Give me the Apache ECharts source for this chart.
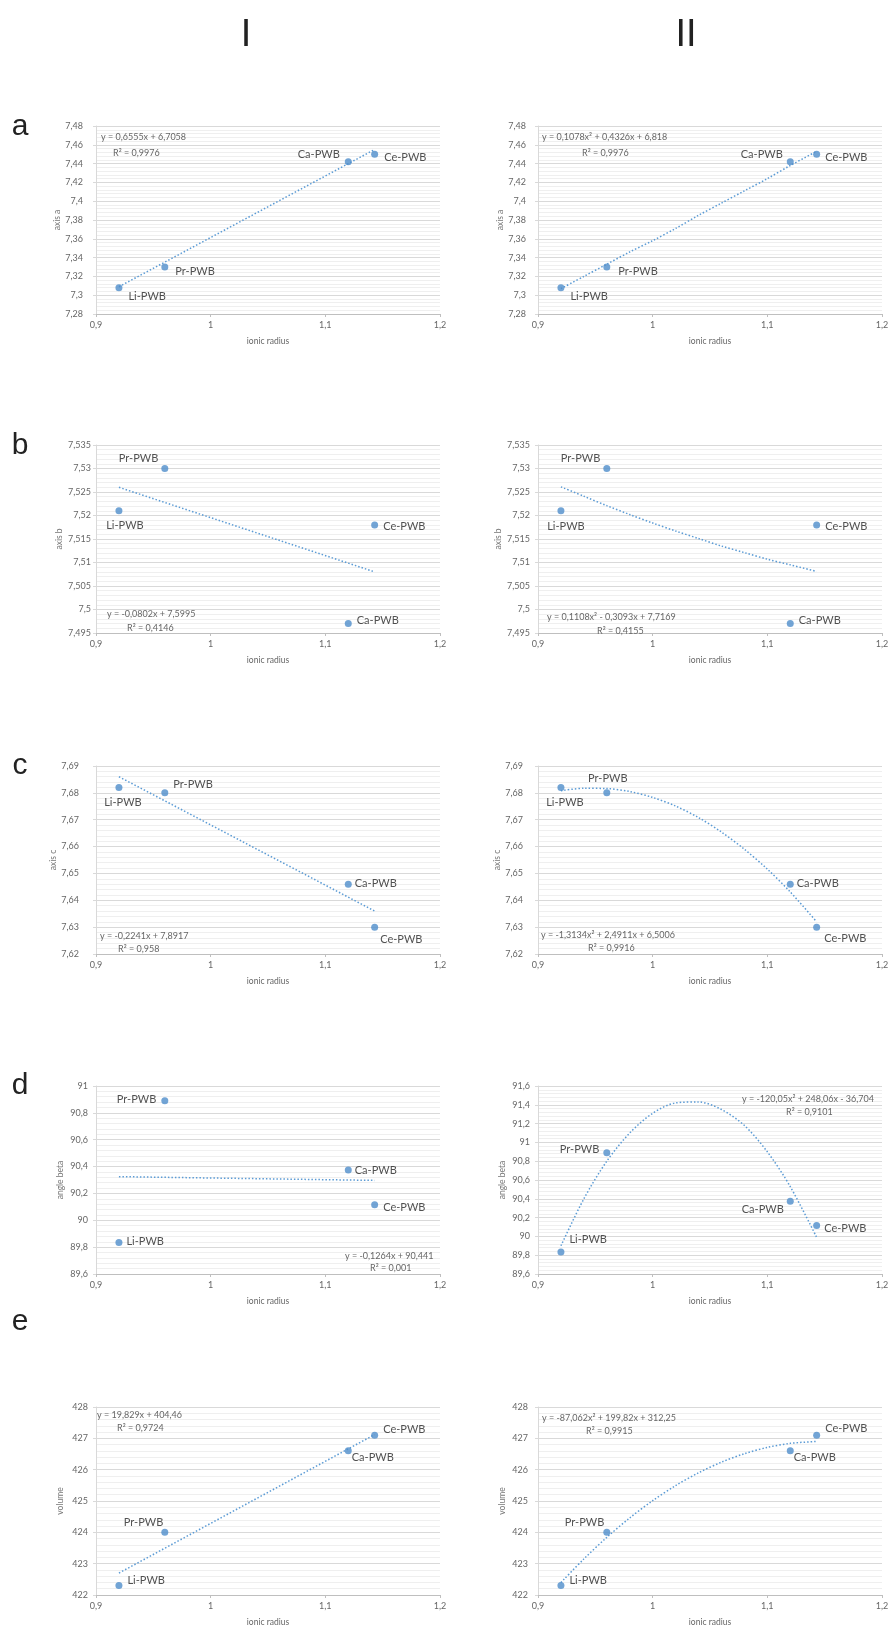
<!DOCTYPE html>
<html><head><meta charset="utf-8">
<style>html,body{margin:0;padding:0;background:#fff}#c{width:892px;height:1634px}</style>
<script src="https://cdn.jsdelivr.net/npm/echarts/dist/echarts.min.js"></script>
</head><body><div id="c"></div>
<script>
// ---------- data ----------
const pointNames = ['Li-PWB', 'Pr-PWB', 'Ca-PWB', 'Ce-PWB'];
const ionicRadius = [0.92, 0.96, 1.12, 1.143];
const axisA = [7.308, 7.330, 7.442, 7.450];
const axisB = [7.521, 7.530, 7.497, 7.518];
const axisC = [7.682, 7.680, 7.646, 7.630];
const angleBeta = [89.835, 90.89, 90.375, 90.115];
const volume = [422.3, 424.0, 426.6, 427.1];

// trendlines, column I (linear) : end points
const trendLinearX = [0.92, 1.143];
const trendA1 = [7.309, 7.455];
const trendB1 = [7.526, 7.508];
const trendC1 = [7.686, 7.636];
const trendD1 = [90.325, 90.297];
const trendE1 = [422.70, 427.12];
// trendlines, column II (polynomial) : points along the curve
const trendCurveX = [0.92, 0.94, 0.96, 0.98, 1.00, 1.02, 1.04, 1.06, 1.08, 1.10, 1.12, 1.143];
const trendA2 = [7.307, 7.320, 7.333, 7.346, 7.358, 7.371, 7.385, 7.398, 7.411, 7.424, 7.438, 7.453];
const trendB2 = [7.5261, 7.5241, 7.5221, 7.5202, 7.5184, 7.5167, 7.5151, 7.5135, 7.5121, 7.5107, 7.5095, 7.5081];
const trendC2 = [7.6808, 7.6817, 7.6816, 7.6805, 7.6783, 7.6751, 7.6708, 7.6654, 7.6590, 7.6516, 7.6431, 7.6320];
const trendD2 = [89.90, 90.40, 90.80, 91.10, 91.31, 91.42, 91.43, 91.35, 91.18, 90.90, 90.53, 89.99];
const trendE2 = [422.40, 423.15, 423.84, 424.46, 425.01, 425.49, 425.90, 426.24, 426.51, 426.71, 426.84, 426.90];

// axes
const yAxisNames = ['axis a', 'axis b', 'axis c', 'angle beta', 'volume'];
const yMinI = [7.28, 7.495, 7.62, 89.6, 422];
const yMaxI = [7.48, 7.535, 7.69, 91, 428];
const yMinII = [7.28, 7.495, 7.62, 89.6, 422];
const yMaxII = [7.48, 7.535, 7.69, 91.6, 428];
const yStep = [0.02, 0.005, 0.01, 0.2, 1];
const xMin = 0.9, xMax = 1.2, xStep = 0.1;
const xAxisName = 'ionic radius';

// texts
const panelLetters = ['a', 'b', 'c', 'd', 'e'];
const columnTitles = ['I', 'II'];
const equationsI = [
  ['y = 0,6555x + 6,7058', 'R² = 0,9976'],
  ['y = -0,0802x + 7,5995', 'R² = 0,4146'],
  ['y = -0,2241x + 7,8917', 'R² = 0,958'],
  ['y = -0,1264x + 90,441', 'R² = 0,001'],
  ['y = 19,829x + 404,46', 'R² = 0,9724']
];
const equationsII = [
  ['y = 0,1078x² + 0,4326x + 6,818', 'R² = 0,9976'],
  ['y = 0,1108x² - 0,3093x + 7,7169', 'R² = 0,4155'],
  ['y = -1,3134x² + 2,4911x + 6,5006', 'R² = 0,9916'],
  ['y = -120,05x² + 248,06x - 36,704', 'R² = 0,9101'],
  ['y = -87,062x² + 199,82x + 312,25', 'R² = 0,9915']
];

// ---------- layout / style ----------
const G_LEFT = [96, 538];
const G_WIDTH = 344;
const G_TOP = [126, 445, 766, 1086, 1407];
const G_HEIGHT = 188;
const LETTER_BASE = [142, 461, 781, 1101, 1337];
const labelMarginI = [13, 5, 17, 8, 8];
const labelMarginII = [12, 8, 15, 8, 10];

const labelPlaceI = [
  [['right', [1, 9]], ['right', [2, 4]], ['left', [0, -7]], ['right', [1, 3]]],
  [['bottom', [6, 1]], ['left', [2, -10]], ['right', [0, -3]], ['right', [0, 2]]],
  [['bottom', [4, 1]], ['right', [0, -8]], ['right', [-2, -1]], ['right', [-3, 12]]],
  [['right', [-1, -1]], ['left', [0, -1]], ['right', [-2, 1]], ['right', [0, 3]]],
  [['right', [0, -5]], ['left', [7, -10]], ['right', [-5, 7]], ['right', [0, -6]]]
];
const labelPlaceII = [
  [['right', [1, 9]], ['right', [3, 4]], ['left', [1, -7]], ['right', [0, 3]]],
  [['bottom', [5, 2]], ['left', [2, -10]], ['right', [0, -3]], ['right', [0, 2]]],
  [['bottom', [4, 1]], ['top', [1, 0]], ['right', [-2, -1]], ['right', [-1, 11]]],
  [['right', [0, -12]], ['left', [1, -3]], ['left', [2, 8]], ['right', [-1, 3]]],
  [['right', [0, -5]], ['left', [6, -10]], ['right', [-5, 7]], ['right', [0, -7]]]
];
// equation text offsets relative to grid top-left: [line1 [dx,dy], line2 [dx,dy]]
const eqPosI = [
  [[5, 11], [17, 27]], [[11, 169], [31, 183]], [[4, 170], [22, 183]],
  [[249, 170], [274, 182]], [[1, 8], [21, 21]]
];
const eqPosII = [
  [[4, 11], [44, 27]], [[9, 172], [59, 186]], [[3, 169], [50, 182]],
  [[204, 13], [248, 26]], [[4, 11], [48, 24]]
];

const BLUE = '#4f8dca';
const TREND = '#5b9bd5';
const FONT = 'Lato, "Open Sans", sans-serif';
const fmt = v => String(+(+v).toFixed(4)).replace('.', ',');

const yValues = [axisA, axisB, axisC, angleBeta, volume];
const trendI = [trendA1, trendB1, trendC1, trendD1, trendE1];
const trendII = [trendA2, trendB2, trendC2, trendD2, trendE2];

const grids = [], xAxes = [], yAxes = [], series = [], graphics = [];

for (let col = 0; col < 2; col++) {
  for (let r = 0; r < 5; r++) {
    const gi = grids.length;
    grids.push({ left: G_LEFT[col], top: G_TOP[r], width: G_WIDTH, height: G_HEIGHT,
      containLabel: false, outerBoundsMode: 'none' });
    xAxes.push({
      gridIndex: gi, type: 'value', min: xMin, max: xMax, interval: xStep,
      name: xAxisName, nameLocation: 'middle', nameGap: 23,
      nameTextStyle: { fontFamily: FONT, fontSize: 8.5, color: '#666' },
      axisLine: { show: true, lineStyle: { color: '#bfbfbf', width: 1 } },
      axisTick: { show: true, length: 3, lineStyle: { color: '#bfbfbf' } },
      axisLabel: { formatter: fmt, fontFamily: FONT, fontSize: 9, color: '#666', margin: 7 },
      splitLine: { show: false }
    });
    yAxes.push({
      gridIndex: gi, type: 'value',
      min: col ? yMinII[r] : yMinI[r], max: col ? yMaxII[r] : yMaxI[r], interval: yStep[r],
      name: yAxisNames[r], nameLocation: 'middle', nameGap: 31,
      nameTextStyle: { fontFamily: FONT, fontSize: 8.5, color: '#777' },
      axisLine: { show: true, lineStyle: { color: '#d9d9d9', width: 1 } },
      axisTick: { show: true, length: 3, lineStyle: { color: '#d9d9d9' } },
      axisLabel: { formatter: fmt, fontFamily: FONT, fontSize: 9, color: '#666',
        margin: col ? labelMarginII[r] : labelMarginI[r] },
      splitLine: { show: true, lineStyle: { color: '#d9d9d9', width: 1 } },
      minorTick: { show: false, splitNumber: 5 },
      minorSplitLine: { show: true, lineStyle: { color: '#efefef', width: 1 } }
    });
    const tx = col ? trendCurveX : trendLinearX;
    const ty = col ? trendII[r] : trendI[r];
    series.push({
      type: 'line', xAxisIndex: gi, yAxisIndex: gi, smooth: col ? 0.3 : false,
      symbol: 'none', silent: true, z: 2,
      lineStyle: { color: TREND, width: 1.5, type: [1.5, 2] },
      data: tx.map((x, i) => [x, ty[i]])
    });
    const place = col ? labelPlaceII[r] : labelPlaceI[r];
    series.push({
      type: 'scatter', xAxisIndex: gi, yAxisIndex: gi, symbolSize: 7, z: 3,
      itemStyle: { color: BLUE },
      label: { show: true, formatter: p => pointNames[p.dataIndex],
        fontFamily: FONT, fontSize: 11, color: '#262626', distance: 5 },
      data: ionicRadius.map((x, i) => ({ value: [x, yValues[r][i]],
        label: { position: place[i][0], offset: place[i][1] } }))
    });
    const eq = col ? equationsII[r] : equationsI[r];
    const ep = col ? eqPosII[r] : eqPosI[r];
    for (let k = 0; k < 2; k++) {
      graphics.push({ type: 'text', x: G_LEFT[col] + ep[k][0], y: G_TOP[r] + ep[k][1], z: 10,
        style: { text: eq[k], fill: '#666', font: '9px ' + FONT,
          align: 'left', textAlign: 'left', verticalAlign: 'middle', textVerticalAlign: 'middle' } });
    }
  }
}
panelLetters.forEach((t, r) => {
  graphics.push({ type: 'text', x: 20, y: LETTER_BASE[r], z: 10,
    style: { text: t, fill: '#222', font: '30px "Liberation Sans", Arial, sans-serif',
      align: 'center', textAlign: 'center', verticalAlign: 'bottom', textVerticalAlign: 'bottom' } });
});
const titleX = [246, 686];
columnTitles.forEach((t, c) => {
  graphics.push({ type: 'text', x: titleX[c], y: 55, z: 10,
    style: { text: t, fill: '#222', font: '38px "Liberation Sans", Arial, sans-serif',
      align: 'center', textAlign: 'center', verticalAlign: 'bottom', textVerticalAlign: 'bottom' } });
});

const chart = echarts.init(document.getElementById('c'), null, { renderer: 'canvas' });
chart.setOption({
  backgroundColor: '#fff', animation: false,
  grid: grids, xAxis: xAxes, yAxis: yAxes, series: series, graphic: graphics
});
</script></body></html>
